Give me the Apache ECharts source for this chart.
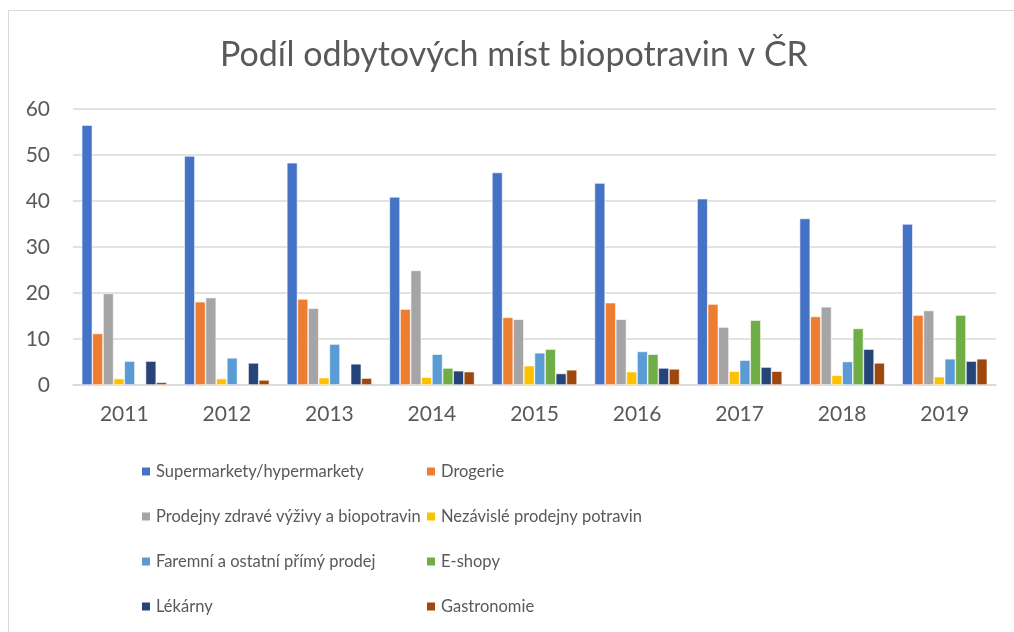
<!DOCTYPE html>
<html>
<head>
<meta charset="utf-8">
<script src="https://cdn.jsdelivr.net/npm/echarts@6/dist/echarts.min.js"></script>
<style>
  html, body { margin: 0; padding: 0; background: #fff; }
  #chart { width: 1014px; height: 632px; }
</style>
</head>
<body>
<div id="chart"></div>
<script>
// roky
var years = ['2011', '2012', '2013', '2014', '2015', '2016', '2017', '2018', '2019'];

// jednotlivé řady (v %)
var supermarkety = [56.5, 49.8, 48.3, 40.9, 46.2, 43.9, 40.5, 36.2, 35.0];
var drogerie     = [11.2, 18.1, 18.7, 16.5, 14.7, 17.9, 17.6, 14.9, 15.2];
var prodejnyZdr  = [19.9, 19.0, 16.7, 24.9, 14.3, 14.3, 12.6, 17.0, 16.2];
var nezavisle    = [1.4, 1.4, 1.6, 1.7, 4.2, 2.9, 3.0, 2.1, 1.8];
var faremni      = [5.2, 5.9, 8.9, 6.7, 7.0, 7.3, 5.4, 5.1, 5.7];
var eshopy       = [null, null, null, 3.7, 7.8, 6.7, 14.1, 12.3, 15.2];
var lekarny      = [5.2, 4.8, 4.6, 3.1, 2.5, 3.7, 3.9, 7.8, 5.2];
var gastronomie  = [0.6, 1.1, 1.5, 2.9, 3.3, 3.5, 3.0, 4.8, 5.7];

var yTicks = [0, 10, 20, 30, 40, 50, 60];

var names = [
    'Supermarkety/hypermarkety',
    'Drogerie',
    'Prodejny zdravé výživy a biopotravin',
    'Nezávislé prodejny potravin',
    'Faremní a ostatní přímý prodej',
    'E-shopy',
    'Lékárny',
    'Gastronomie'
];
var values = [supermarkety, drogerie, prodejnyZdr, nezavisle, faremni, eshopy, lekarny, gastronomie];
var colors = ['#4472C4', '#ED7D31', '#A5A5A5', '#FFC000', '#5B9BD5', '#70AD47', '#264478', '#9E480E'];

var font = 'Lato, "Open Sans", sans-serif';

var series = [];
for (var i = 0; i < names.length; i++) {
    series.push({
        name: names[i],
        type: 'bar',
        data: values[i],
        barGap: '0%',
        barCategoryGap: '17%',
        itemStyle: {
            color: colors[i],
            borderColor: '#ffffff',
            borderWidth: 0.6
        }
    });
}

function legendBlock(left, list) {
    return {
        orient: 'vertical',
        left: left,
        top: 461,
        padding: 0,
        itemWidth: 10,
        itemHeight: 10,
        itemGap: 24,
        icon: 'rect',
        data: list,
        textStyle: {
            color: '#595959',
            fontSize: 16.5,
            fontFamily: font,
            lineHeight: 21
        }
    };
}

var myChart = echarts.init(document.getElementById('chart'));
myChart.setOption({
    animation: false,
    color: colors,
    title: {
        text: 'Podíl odbytových míst biopotravin v ČR',
        left: 220,
        top: 38,
        padding: 0,
        textStyle: {
            color: '#595959',
            fontSize: 34,
            fontWeight: 400,
            fontFamily: font
        }
    },
    graphic: [{
        // rámeček grafu
        type: 'rect',
        shape: {x: 8.5, y: 10.5, width: 1100, height: 700},
        style: {fill: 'none', stroke: '#d9d9d9', lineWidth: 1}
    }],
    legend: [
        legendBlock(140, [names[0], names[2], names[4], names[6]]),
        legendBlock(425, [names[1], names[3], names[5], names[7]])
    ],
    grid: {
        left: 73,
        right: 18,
        top: 109,
        bottom: 247,
        containLabel: false
    },
    xAxis: {
        type: 'category',
        data: years,
        axisTick: {show: false},
        axisLine: {lineStyle: {color: '#d9d9d9', width: 1.5}},
        axisLabel: {
            color: '#595959',
            fontSize: 21,
            fontFamily: font,
            margin: 19
        }
    },
    yAxis: {
        type: 'value',
        min: yTicks[0],
        max: yTicks[yTicks.length - 1],
        interval: 10,
        axisLine: {show: false},
        axisTick: {show: false},
        splitLine: {lineStyle: {color: '#d9d9d9', width: 1.5}},
        axisLabel: {
            color: '#595959',
            fontSize: 21,
            fontFamily: font,
            margin: 23
        }
    },
    series: series
});
</script>
</body>
</html>
